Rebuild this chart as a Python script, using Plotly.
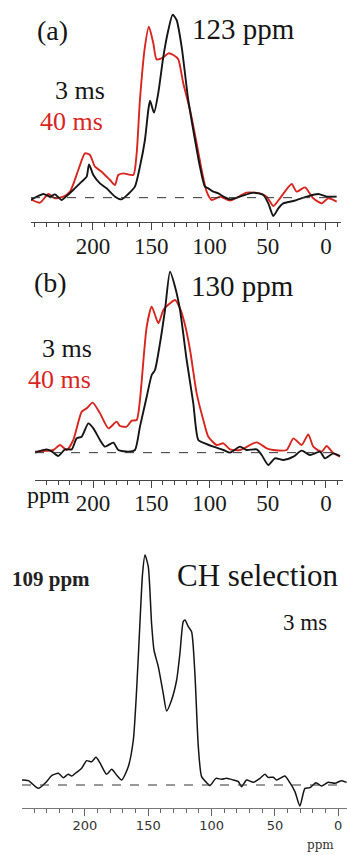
import plotly.graph_objects as go

# ---------------- data (ppm, intensity in arbitrary units; baseline = 0) ----------------
ppm_a_3 = [253.5, 242.6, 237, 232.6, 227, 222.6, 217, 209.7, 205.4, 203.4, 199.7, 194, 188.3, 181, 175.4,
           169.7, 164, 159.7, 155.4, 152.5, 151, 147.6, 144, 139.6, 135.3, 131.6, 128.2, 123.9, 118.2,
           112.4, 108.2, 103.9, 101, 96.7, 92.4, 88, 82.4, 73.8, 62.4, 53.8, 49.5, 45.2, 40.9, 36.6,
           28, 16.6, 6.6, -0.6, -9.2]
int_a_3 = [-7, 11, 3, 10, -7, 5, 23, 48, 63, 100, 68, 43, 28, 3, -5,
           11, 33, 93, 173, 263, 291, 255, 313, 423, 503, 549, 533, 453, 293,
           173, 93, 33, 28, 18, 13, 3, -5, 3, 15, 8, -17, -55, -32, -17,
           -10, 3, 11, 3, 3]

ppm_a_40 = [253.5, 245.5, 238.3, 232.6, 225.5, 219.7, 212.6, 206.9, 202.6, 198.3, 192.6, 185.4, 181.1,
            178.3, 174, 165.4, 162.5, 159.7, 155.4, 152, 148.2, 145.4, 139.6, 135.3, 131, 126.8, 122.5,
            116.7, 111, 106.7, 102.4, 98.1, 91, 82.4, 68.1, 56.7, 50.9, 45.2, 39.5, 29.5, 25.2, 18,
            10.9, 3.7, -2, -9.2]
int_a_40 = [-5, -15, 11, -2, 3, 18, 83, 133, 128, 93, 78, 53, 38,
            68, 73, 68, 133, 293, 453, 513, 463, 415, 421, 433, 428, 415, 343,
            263, 163, 83, 18, -7, 3, -9, 15, 13, 3, -25, -2, 41, 18, 31,
            -2, -17, -2, -12]

ppm_b_3 = [249.8, 239.8, 235.5, 229.8, 224, 218.3, 214, 209.7, 204, 199.7, 194, 189.7, 182.5, 178.3,
           169.7, 164, 159.7, 153.9, 149.6, 146.8, 142.5, 138.2, 133.9, 129.6, 125.3, 119.6, 113.9,
           109.6, 103.9, 96.7, 88.1, 82.4, 73.8, 68.1, 59.5, 55.2, 49.5, 43.8, 36.6, 28, 20.9, 13.7,
           5.2, 0.9, -6.3, -12]
int_b_3 = [0, 10, 4, -10, 10, 10, 43, 48, 88, 73, 38, 18, 30, 8,
           3, 8, 78, 168, 233, 248, 328, 428, 543, 498, 428, 278, 148,
           38, 28, 18, 8, 0, 18, 8, 10, -7, -37, -17, -22, -12, 6, -7,
           3, -17, -2, -10]

ppm_b_40 = [249.8, 242.6, 234, 228.3, 222.6, 216.9, 209.7, 205.4, 200.3, 194, 186.8, 179.7, 176.8,
            171.1, 166.8, 162.5, 159.7, 153.9, 149.6, 143.9, 139.6, 133.9, 129.6, 125.3, 121, 116.7,
            111, 105.3, 101, 93.8, 88.1, 82.4, 73.8, 59.5, 50.9, 45.2, 33.8, 28, 20.9, 15.2, 10.9,
            3.7, -0.6, -6.3, -12]
int_b_40 = [3, 5, 8, 23, 8, 38, 123, 133, 150, 118, 73, 93, 80,
            78, 96, 98, 158, 378, 438, 388, 428, 448, 458, 433, 383, 308,
            178, 98, 48, 23, 28, 10, 8, 31, 13, 8, 8, 43, 23, 55, 18,
            3, 20, -2, -12]

ppm_c = [250, 244.7, 236.8, 230.3, 226.3, 221, 217.1, 213.2, 210.5, 206.6, 202.6, 198.7, 194.7, 191.3,
         188.2, 182.9, 178.9, 175, 171, 165.8, 161.8, 159.2, 156.6, 154.5, 152.6, 150, 147.4, 145.5,
         142.1, 138.2, 135.5, 131.6, 127.6, 125, 122.4, 121, 118.4, 115.8, 113.2, 110.5, 107.9, 103.9,
         101.3, 96.6, 92.1, 88.2, 82.9, 78.9, 76.3, 72.4, 67.1, 61.8, 57.9, 55.3, 51.3, 48.7, 42.1,
         38.2, 34.2, 30.3, 26.3, 22.4, 17.6, 13.2, 7.9, 2.6, -2.6, -6.6]
int_c = [15, 13, -10, 10, 28, 35, 22, 32, 27, 38, 50, 73, 70, 83,
         67, 32, 47, 30, 15, 55, 135, 285, 485, 635, 690, 655, 485, 405,
         355, 275, 222, 255, 315, 395, 490, 495, 475, 460, 335, 115, 25, 7,
         -2, 20, 17, 20, 15, 10, -5, 15, 8, 20, 32, 23, 23, 15, 27,
         7, -20, -63, -10, -8, 7, -3, 8, 5, 13, 8]

major_ticks = [0, 50, 100, 150, 200]
major_labels = ["0", "50", "100", "150", "200"]

# ---------------- helpers (layout only) ----------------
W, H = 347, 855
SERIF = "Liberation Serif, Times New Roman, serif"
BLACK = "#151515"
RED = "#d8261f"


def px(x):
    return x / W


def py(y):
    return 1 - y / H


fig = go.Figure()

line_kw = dict(shape="spline", smoothing=0.6)
fig.add_trace(go.Scatter(x=ppm_a_40, y=int_a_40, mode="lines", xaxis="x", yaxis="y",
                         line=dict(color=RED, width=1.9, **line_kw), showlegend=False))
fig.add_trace(go.Scatter(x=ppm_a_3, y=int_a_3, mode="lines", xaxis="x", yaxis="y",
                         line=dict(color=BLACK, width=1.9, **line_kw), showlegend=False))
fig.add_trace(go.Scatter(x=ppm_b_40, y=int_b_40, mode="lines", xaxis="x2", yaxis="y2",
                         line=dict(color=RED, width=1.9, **line_kw), showlegend=False))
fig.add_trace(go.Scatter(x=ppm_b_3, y=int_b_3, mode="lines", xaxis="x2", yaxis="y2",
                         line=dict(color=BLACK, width=1.9, **line_kw), showlegend=False))
fig.add_trace(go.Scatter(x=ppm_c, y=int_c, mode="lines", xaxis="x3", yaxis="y3",
                         line=dict(color=BLACK, width=1.5, **line_kw), showlegend=False))


def xax(domain, rng, anchor, font, linecolor, tickcolor, standoff):
    return dict(domain=domain, range=rng, anchor=anchor, showgrid=False, zeroline=False,
                showline=True, linecolor=linecolor, linewidth=1,
                tickmode="array", tickvals=major_ticks, ticktext=major_labels,
                ticks="outside", ticklen=7, tickwidth=1, tickcolor=tickcolor,
                ticklabelstandoff=standoff,
                minor=dict(dtick=10, tick0=0, ticks="outside", ticklen=4, tickwidth=1,
                           tickcolor=tickcolor, showgrid=False),
                tickfont=font, fixedrange=True)


def yax(domain, rng, anchor):
    return dict(domain=domain, range=rng, anchor=anchor, visible=False, fixedrange=True)


tf_ab = dict(family=SERIF, size=23, color="#1a1a1a")
tf_c = dict(family="DejaVu Sans, Verdana, sans-serif", size=13, color="#333333")

fig.update_layout(
    width=W, height=H, autosize=False,
    margin=dict(l=0, r=0, t=0, b=0),
    paper_bgcolor="white", plot_bgcolor="white",
    xaxis=xax([px(31), px(341)], [253.2, -12.9], "y", tf_ab, "#444", "#444", -4),
    yaxis=yax([py(222), py(10)], [-73, 563], "x"),
    xaxis2=xax([px(35), px(343)], [249.8, -14.6], "y2", tf_ab, "#444", "#444", -5),
    yaxis2=yax([py(480), py(262)], [-82, 572], "x2"),
    xaxis3=xax([px(22), px(347)], [249.7, -6.9], "y3", tf_c, "#777", "#666", -2),
    yaxis3=yax([py(808), py(550)], [-69, 705], "x3"),
)

# dashed baselines
for xr, yr in [("x domain", "y"), ("x2 domain", "y2"), ("x3 domain", "y3")]:
    fig.add_shape(type="line", xref=xr, yref=yr, x0=0, x1=0.985, y0=0, y1=0,
                  line=dict(color="#333", width=1, dash="dash"))


def ann(text, x_left, baseline, fs, color=BLACK, family=SERIF, xanchor="left", bold=False):
    t = f"<b>{text}</b>" if bold else text
    fig.add_annotation(text=t, xref="paper", yref="paper", x=px(x_left),
                       y=py(baseline + 0.216 * fs + 1), xanchor=xanchor, yanchor="bottom",
                       showarrow=False, font=dict(family=family, size=fs, color=color))


ann("(a)", 35, 41, 28)
ann("123 ppm", 190, 40, 29)
ann("3 ms", 53, 100, 26)
ann("40 ms", 38, 131, 26, color=RED)

ann("(b)", 32, 293, 28)
ann("130 ppm", 189, 297, 29)
ann("3 ms", 40, 358, 26)
ann("40 ms", 26, 389, 26, color=RED)
ann("ppm", 25, 504, 24)

ann("109 ppm", 10, 587, 21, color="#222", bold=True)
ann("CH selection", 175, 587, 31)
ann("3 ms", 281, 631, 23)
ann("ppm", 320, 850, 12, color="#333", family="DejaVu Serif, serif", xanchor="center")

fig.write_html("out.html")
